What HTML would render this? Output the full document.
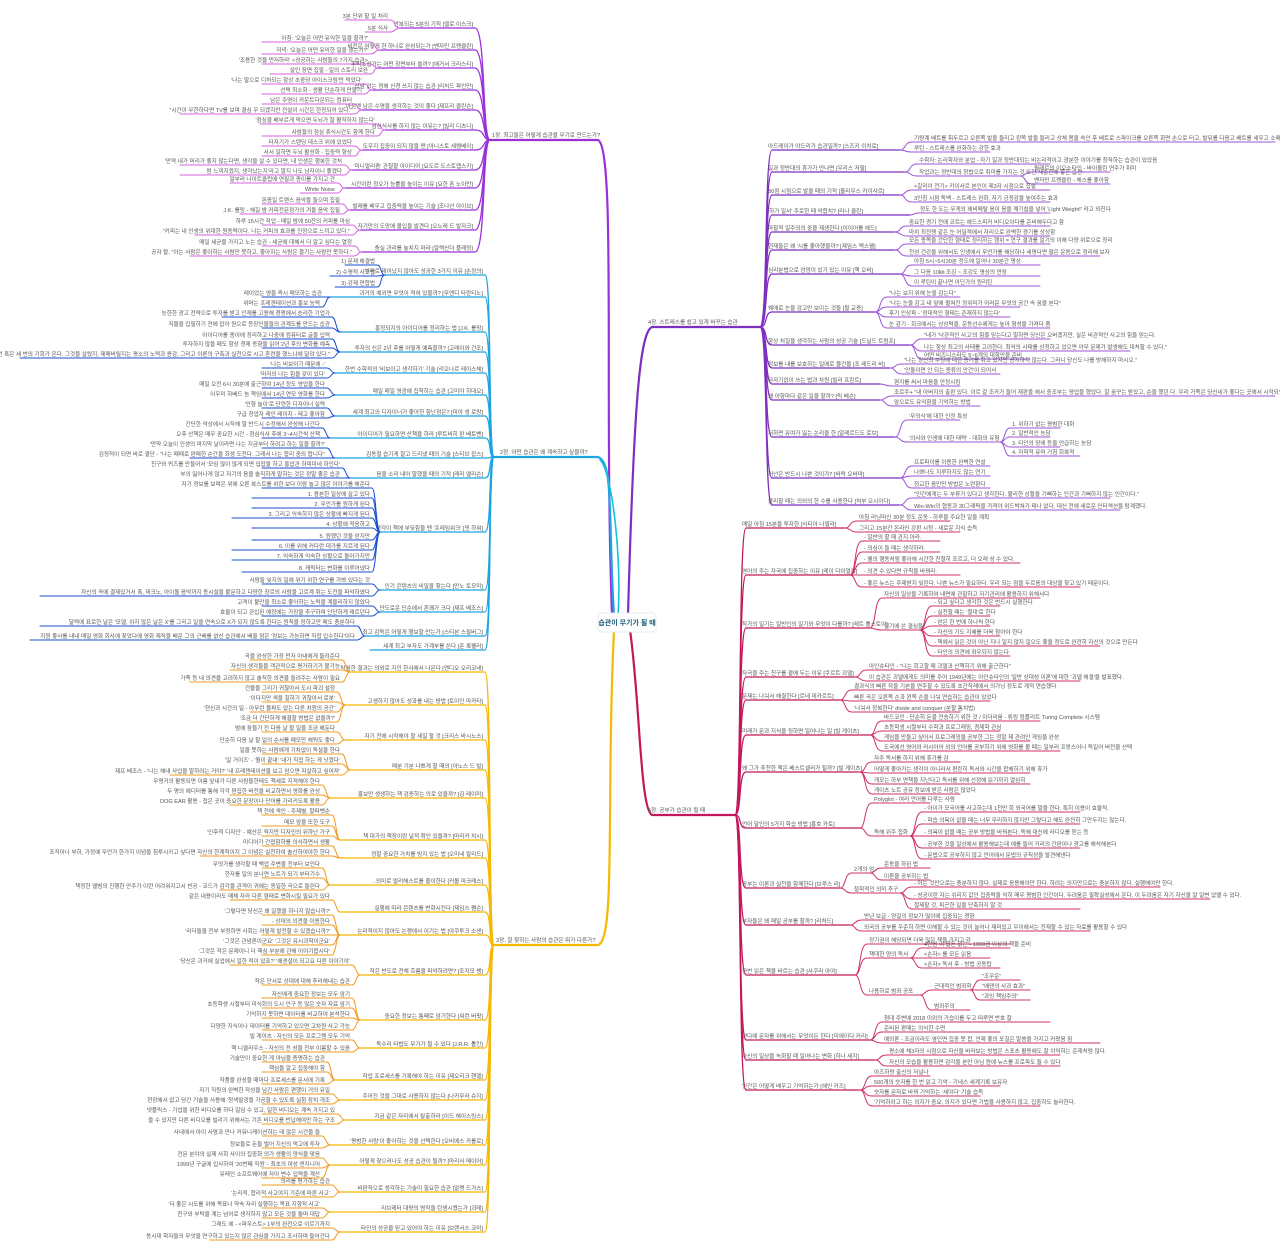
<!DOCTYPE html>
<html><head><meta charset="utf-8"><style>
html,body{margin:0;padding:0;background:#fff;width:1280px;height:1248px;overflow:hidden}
svg{display:block}
text{font-family:"Liberation Sans","Noto Sans CJK KR",sans-serif;font-size:5.6px;fill:#555;stroke:none}
.l text{text-anchor:end}
path{fill:none;stroke-linecap:round}
</style></head><body>
<svg width="1280" height="1248" viewBox="0 0 1280 1248">
<!-- trunks -->
<path d="M612 615 C604 400 616 148 598 140 H490" stroke="#9b30d9" stroke-width="2.2"/>
<path d="M614 615 C608 520 614 462 598 457 H492" stroke="#1ea5e0" stroke-width="2.2"/>
<path d="M618 615 C622 560 612 470 600 460" stroke="#17c3d8" stroke-width="1.6"/>
<path d="M614 630 C606 800 616 940 598 945 H492" stroke="#f6b800" stroke-width="2.2"/>
<path d="M628 615 C634 400 640 332 652 327 H760" stroke="#7d2fc0" stroke-width="2.2"/>
<path d="M630 630 C640 700 640 810 652 815 H735" stroke="#c2185b" stroke-width="2.2"/>
<text x="492" y="137">1장. 최고들은 어떻게 습관을 무기로 만드는가?</text>
<text x="500" y="454">2장. 어떤 습관은 왜 계속하고 싶을까?</text>
<text x="496" y="942">3장. 잘 찾하는 사람의 습관은 뭐가 다른가?</text>
<text x="648" y="324">4장. 스트레스를 쉽고 있게 바꾸는 습관</text>
<text x="648" y="812">5장. 공부가 습관이 될 때</text>
<rect x="598" y="613" width="58" height="19" rx="4" fill="#fff" stroke="#e3eef2"/>
<text x="627" y="625" style="font-size:7px;fill:#1d5f7a;font-weight:bold;text-anchor:middle">습관이 무기가 될 때</text>

<!-- purple left -->
<g class="l" stroke="#9b30d9" stroke-width="1.3">
<path d="M400 28 H475 C486 28 482 140 490 140"/><text x="473" y="26">반복되는 5분의 기적 [델로 이스크]</text>
<path d="M380 50 H475 C486 50 482 140 490 140"/><text x="473" y="48">비전은 어떻게 한 하나로 완성되는가 [벤자민 프랭클린]</text>
<path d="M378 68 H475 C486 68 482 140 490 140"/><text x="473" y="66">추리소설가는 어떤 장면부터 쓸까? [애거서 크리스티]</text>
<path d="M372 90 H475 C486 90 482 140 490 140"/><text x="473" y="88">잡념 없는 정해 신경 쓰지 않는 습관 [리처드 파인만]</text>
<path d="M362 110 H475 C486 110 482 140 490 140"/><text x="473" y="108">아침엔 남은 수명을 생각하는 것이 좋다 [제프리 클린슨]</text>
<path d="M385 130 H475 C486 130 482 140 490 140"/><text x="473" y="128">점심식사를 하지 않는 이유는? [빌리 디츠니]</text>
<path d="M362 150 H475 C486 150 482 140 490 140"/><text x="473" y="148">도우지 집중이 되지 않을 땐 [아니스토 세렘베이]</text>
<path d="M352 170 H475 C486 170 482 140 490 140"/><text x="473" y="168">'미니멀리즘' 관철할 아이디어 [요도르 도스토옙스키]</text>
<path d="M345 188 H475 C486 188 482 140 490 140"/><text x="473" y="186">시간이란 정오가 능률을 높이는 이유 [요한 폰 노이만]</text>
<path d="M350 210 H475 C486 210 482 140 490 140"/><text x="473" y="208">발레를 배우고 집중력을 높이는 기술 [조나선 아이브]</text>
<path d="M360 230 H475 C486 230 482 140 490 140"/><text x="473" y="228">자기만의 도망에 몰입을 발견다 [오노레 드 발자크]</text>
<path d="M362 252 H475 C486 252 482 140 490 140"/><text x="473" y="250">충실 관리를 놓치지 마라 [알렉산더 플레밍]</text>
</g>
<g class="l" stroke="#d460e0" stroke-width="1">
<path d="M345 20 H390 C396 20 394 28 400 28"/><text x="388" y="18">3분 단위 할 일 처리</text>
<path d="M365 32 H390 C396 32 394 28 400 28"/><text x="388" y="30">5분 식사</text>
<path d="M262 42 H370 C376 42 374 50 380 50"/><text x="368" y="40">아침: '오늘은 어떤 유익한 일을 할까?'</text>
<path d="M262 54 H370 C376 54 374 50 380 50"/><text x="368" y="52">저녁: '오늘은 어떤 유익한 일을 했는가?'</text>
<path d="M262 64 H370 C375 64 373 68 378 68"/><text x="368" y="62">'조용한 것을 먼저하라' &lt;성공하는 사람들의 7가지 습관&gt;</text>
<path d="M270 74 H370 C375 74 373 68 378 68"/><text x="368" y="72">살인 장면 집필 - 일의 스토리 보완</text>
<path d="M262 84 H364 C369 84 367 90 372 90"/><text x="362" y="82">'나는 말으로 디처되는 항상 초중당 아이스크림'만 먹었다'</text>
<path d="M262 94 H364 C369 94 367 90 372 90"/><text x="362" y="92">선택 최소화 - 생활 단순하게 만들기</text>
<path d="M262 104 H354 C359 104 357 110 362 110"/><text x="352" y="102">남은 주명이 카운트다운되는 컴퓨터</text>
<path d="M180 114 H354 C359 114 357 110 362 110"/><text x="352" y="112">"시간이 무한하다면 TV를 보며 결심 우 되겠지만 전설이 시간은 한정되어 있다."</text>
<path d="M260 124 H377 C382 124 380 130 385 130"/><text x="375" y="122">'점심을 배부르게 먹으면 두뇌가 잘 활작하지 않는다'</text>
<path d="M262 136 H377 C382 136 380 130 385 130"/><text x="375" y="134">사람들의 점심 휴식시간도 함께 한다</text>
<path d="M262 146 H354 C359 146 357 150 362 150"/><text x="352" y="144">타자기가 스탠딩 데스크 위에 있었다</text>
<path d="M262 156 H354 C359 156 357 150 362 150"/><text x="352" y="154">서서 일하면 두뇌 활성화 - 집중력 향상</text>
<path d="M180 165 H344 C349 165 347 170 352 170"/><text x="342" y="163">'만약 내가 머리가 좋지 않는다면, 생각을 살 수 있다면, 내 인생은 행복한 것처</text>
<path d="M180 175 H344 C349 175 347 170 352 170"/><text x="342" y="173">럼 느껴지겠지, 생각났는지'라고 말지 나도 남자이니 좋겠다</text>
<path d="M230 183 H337 C342 183 340 188 345 188"/><text x="335" y="181">일부러 나이트클럽에 연필과 종이를 가지고 간</text>
<path d="M300 193 H337 C342 193 340 188 345 188"/><text x="335" y="191">White Noise</text>
<path d="M262 204 H342 C347 204 345 210 350 210"/><text x="340" y="202">몬종일 트랜스 음악을 들으며 집필</text>
<path d="M240 214 H342 C347 214 345 210 350 210"/><text x="340" y="212">J.K. 롤링 - 해질 밤 커피전문점가의 겨울 음악 집필</text>
<path d="M262 225 H352 C357 225 355 230 360 230"/><text x="350" y="223">하루 15시간 작업 - 매일 밤에 50잔의 커피를 마심</text>
<path d="M195 235 H352 C357 235 355 230 360 230"/><text x="350" y="233">"커피는 내 인생의 위대한 원동력이다. 나는 커피의 효과를 진정으로 느끼고 있다."</text>
<path d="M262 246 H354 C359 246 357 252 362 252"/><text x="352" y="244">매일 세균을 가지고 노는 습관 - 세균에 대해서 더 알고 싶다는 열정</text>
<path d="M190 256 H354 C359 256 357 252 362 252"/><text x="352" y="254">공자 왈, "아는 사람은 좋아하는 사람만 못하고, 좋아하는 사람은 즐기는 사람만 못하다."</text>
</g>

<!-- blue left -->
<g class="l" stroke="#1ea5e0" stroke-width="1.3">
<path d="M385 275 H485 C492 275 488 457 494 457"/><text x="483" y="273">부자로 태어났지 않아도 성공한 3가지 이유 [손정의]</text>
<path d="M330 297 H485 C492 297 488 457 494 457"/><text x="483" y="295">과거의 예외면 무엇이 적혀 있을까? [무엔디 타란티노]</text>
<path d="M340 332 H485 C492 332 488 457 494 457"/><text x="483" y="330">흥정되지의 아이디어를 정리하는 법 [J.K. 롤링]</text>
<path d="M340 352 H485 C492 352 488 457 494 457"/><text x="483" y="350">투자의 신은 2년 후를 어떻게 예측할까? [고레이와 건조]</text>
<path d="M335 373 H485 C492 373 488 457 494 457"/><text x="483" y="371">한번 수학적의 '비보이고 생각하기' 기술 [리오나르 레이스체]</text>
<path d="M335 395 H485 C492 395 488 457 494 457"/><text x="483" y="393">매일 매일 영광에 집착하는 습관 [고미야 히데오]</text>
<path d="M335 416 H485 C492 416 488 457 494 457"/><text x="483" y="414">세계 최고의 디자이너가 좋아한 힘난점은? [미야 생 로랑]</text>
<path d="M330 438 H485 C492 438 488 457 494 457"/><text x="483" y="436">아이디어가 필요하면 산책을 하라 [루트비히 판 베토벤]</text>
<path d="M335 458 H485 C492 458 488 457 494 457"/><text x="483" y="456">김동철 습기게 잘고 드리냈 때의 기술 [스티브 잡스]</text>
<path d="M350 478 H485 C492 478 488 457 494 457"/><text x="483" y="476">음을 소리 내어 말했을 때의 기적 [레리 엘리슨]</text>
<path d="M380 532 H485 C492 532 488 457 494 457"/><text x="483" y="530">생각이 책에 부딪힘을 땐 '프레임워크' [댄 하워]</text>
<path d="M380 590 H485 C492 590 488 457 494 457"/><text x="483" y="588">인기 콘텐츠의 비밀을 찾는다 [만노 토모미]</text>
<path d="M380 612 H485 C492 612 488 457 494 457"/><text x="483" y="610">단도로운 단순에서 흔쾌가 크다 [제프 베조스]</text>
<path d="M365 636 H485 C492 636 488 457 494 457"/><text x="483" y="634">최고 감독은 어떻게 행보할 만는가 [스티븐 스필버그]</text>
<path d="M370 650 H485 C492 650 488 457 494 457"/><text x="483" y="648">세계 최고 부자도 가계부를 쓴다 [존 록펠러]</text>
</g>
<g class="l" stroke="#1a4fd0" stroke-width="1">
<path d="M345 265 H377 C382 265 380 275 385 275"/><text x="375" y="263">1) 문제 해결법</text>
<path d="M330 276 H377 C382 276 380 275 385 275"/><text x="375" y="274">2) 수평적 사고법</text>
<path d="M335 287 H377 C382 287 380 275 385 275"/><text x="375" y="285">3) 강제 연합법</text>
<path d="M262 297 H325 C328 297 327 297 330 297"/><text x="322" y="295">레이었는 영을 즉시 메모하는 습관</text>
<path d="M262 307 H322 C326 307 326 297 330 297"/><text x="320" y="305">위머는 프레젠테이션과 홍보 능력</text>
<path d="M222 317 H332 C336 317 336 332 340 332"/><text x="330" y="315">능한한 광고 전략으로 투자를 받고 인재를 고용해 경쟁에서 승리한 기업가</text>
<path d="M262 328 H332 C336 328 336 332 340 332"/><text x="330" y="326">직물을 집필하기 전에 잡아 원으로 등장인물들의 관계도를 만드는 습관</text>
<path d="M262 339 H332 C336 339 336 352 340 352"/><text x="330" y="337">아이디어를 종이에 정리하고 나중에 컴퓨터로 글을 입력</text>
<path d="M262 348 H332 C336 348 336 352 340 352"/><text x="330" y="346">투자하지 않을 때도 항상 경제 동향을 읽어 2년 후의 변화를 예측</text>
<path d="M20 358 H332 C336 358 336 352 340 352"/><text x="330" y="356">"인간에게는 붙잡 두 번 혹은 세 번의 기회가 온다. 그것을 살렸지, 제매버릴지는 평소의 노력과 용감, 그리고 이론의 구축과 실천으로 시고 흔련을 했느냐에 달려 있다."</text>
<path d="M262 368 H327 C331 368 331 373 335 373"/><text x="325" y="366">'나는 비보이기 때문에 -'</text>
<path d="M262 378 H327 C331 378 331 373 335 373"/><text x="325" y="376">'머저의 나는 힘을 갖이 있다'</text>
<path d="M262 388 H327 C331 388 331 395 335 395"/><text x="325" y="386">매일 오전 6시 30분에 출근하여 14년 정도 영업을 한다</text>
<path d="M262 398 H327 C331 398 331 395 335 395"/><text x="325" y="396">이우미 하베드 놈 책임에서 14년 연모 영화를 한다</text>
<path d="M262 408 H327 C331 408 331 416 335 416"/><text x="325" y="406">'인형 놀이'로 단련한 디자이너 실력</text>
<path d="M262 418 H327 C331 418 331 416 335 416"/><text x="325" y="416">구급 창업자 레인 레이지 - 레고 좋아함</text>
<path d="M262 428 H322 C326 428 326 438 330 438"/><text x="320" y="426">간단한 악상에서 시작해 말 반드시 수정해서 완성해 나간다</text>
<path d="M262 438 H322 C326 438 326 438 330 438"/><text x="320" y="436">오후 산책은 매우 중요한 시간 - 점심식사 후에 3~4시간씩 산책</text>
<path d="M262 448 H327 C331 448 331 458 335 458"/><text x="325" y="446">'만약 오늘이 인생의 마지막 날이라면 나는 지금부터 하려고 하는 일을 할까?'</text>
<path d="M190 458 H327 C331 458 331 458 335 458"/><text x="325" y="456">김정적이 되면 바로 결단 - "나는 때때로 판매한 순간을 회생 도전다. 그래서 나는 합리 중의 합니다"</text>
<path d="M262 468 H342 C346 468 346 478 350 478"/><text x="340" y="466">친구와 퀴즈를 만들어서 '모임 많이 많게 되면 입잡을 하고 홍압관 하며미네 하인다'</text>
<path d="M262 478 H342 C346 478 346 478 350 478"/><text x="340" y="476">부의 잃어나게 않고 자기의 음을 솔직하게 말하는 것은 정말 좋은 습관</text>
<path d="M262 488 H372 C376 488 376 532 380 532"/><text x="370" y="486">자기 정보를 보며은 위에 오른 복스트를 위한 보다 이람 놀고 많은 이야기를 해준다</text>
<path d="M252 498 H372 C376 498 376 532 380 532"/><text x="370" y="496">1. 용본한 일상에 살고 있다</text>
<path d="M252 508 H372 C376 508 376 532 380 532"/><text x="370" y="506">2. 무언가를 원하게 된다</text>
<path d="M232 518 H372 C376 518 376 532 380 532"/><text x="370" y="516">3. 그리고 익숙하지 않은 상황에 빠지게 된다</text>
<path d="M252 528 H372 C376 528 376 532 380 532"/><text x="370" y="526">4. 상황에 적응하고</text>
<path d="M252 540 H372 C376 540 376 532 380 532"/><text x="370" y="538">5. 원했던 것을 얻지만</text>
<path d="M232 550 H372 C376 550 376 532 380 532"/><text x="370" y="548">6. 이를 위해 커다란 대가를 지르게 된다</text>
<path d="M232 560 H372 C376 560 376 532 380 532"/><text x="370" y="558">7. 익숙하게 익숙한 상황으로 돌아가지만</text>
<path d="M242 572 H372 C376 572 376 532 380 532"/><text x="370" y="570">8. 캐릭터는 변화를 이루어냈다</text>
<path d="M262 584 H372 C376 584 376 590 380 590"/><text x="370" y="582">사람들 잊지의 일에 위기 위한 연구를 가봐 있다는 것</text>
<path d="M40 596 H372 C376 596 376 590 380 590"/><text x="370" y="594">자신의 꼭에 결제있거서 폭, 테크노, 아이돌 음악까지 동시설을 불문하고 다양한 장르의 사람을 고르계 취는 도전을 파악하였다</text>
<path d="M262 606 H372 C376 606 376 612 380 612"/><text x="370" y="604">고객이 불만을 최소로 좋아하는 노력을 계울리하지 않았다</text>
<path d="M262 616 H372 C376 616 376 612 380 612"/><text x="370" y="614">효율이 되고 관입된 예정에는 가장을 추구하며 단단하게 레르던다</text>
<path d="M40 626 H357 C361 626 361 636 365 636"/><text x="355" y="624">달력에 표로한 날은 '모델, 쉬지 않은 날은 X'를 그리고 일을 연속으로 X가 되지 않도록 한다는 원칙을 정하고만 매도 충분하다</text>
<path d="M30 640 H357 C361 640 361 636 365 636"/><text x="355" y="638">지원 좋사를 내내 매일 영화 회사에 찾았다에 영화 제작을 배운 그의 근배를 없신 습관에서 배울 점은 '정보는 가능하면 직접 입수한다'이다</text>
</g>

<!-- orange left -->
<g class="l" stroke="#f6b800" stroke-width="1.3">
<path d="M350 672 H485 C492 672 488 945 494 945"/><text x="483" y="670">탁월한 결과는 의외로 지인 한사에서 나온다 [앤디오 오리코네]</text>
<path d="M345 705 H485 C492 705 488 945 494 945"/><text x="483" y="703">고생하지 않아도 성과를 내는 방법 [토이인 마카타]</text>
<path d="M345 740 H485 C492 740 488 945 494 945"/><text x="483" y="738">자기 전에 시작해야 할 세일 할 것 [크리스 바시노스]</text>
<path d="M350 770 H485 C492 770 488 945 494 945"/><text x="483" y="768">매분 기분 나쁘게 할 때의 [아노스 드 빌]</text>
<path d="M330 798 H485 C492 798 488 945 494 945"/><text x="483" y="796">홍보만 생생하는 책 검증하는 의로 있을까? [김 레이미]</text>
<path d="M340 840 H485 C492 840 488 945 494 945"/><text x="483" y="838">책 대가의 책장이란 널적 확인 있을까? [마리카 치시]</text>
<path d="M340 858 H485 C492 858 488 945 494 945"/><text x="483" y="856">정말 중요한 가치를 빙지 있는 법 [오미네 칼리드]</text>
<path d="M330 885 H485 C492 885 488 945 494 945"/><text x="483" y="883">..의미로 멀리해스트를 줄이한다 [커몰 마크레스]</text>
<path d="M340 912 H485 C492 912 488 945 494 945"/><text x="483" y="910">실행에 따라 콘텐츠를 변화시킨다 [제임스 쨈슨]</text>
<path d="M340 935 H485 C492 935 488 945 494 945"/><text x="483" y="933">논리적이지 않아도 논쟁에서 이기는 법 [야쿠투크 소센]</text>
<path d="M360 975 H485 C492 975 488 945 494 945"/><text x="483" y="973">작은 반도로 전체 흐름을 파악하려면? [조지모 쌩]</text>
<path d="M360 1020 H485 C492 1020 488 945 494 945"/><text x="483" y="1018">중요한 정보는 통째로 암기한다 [워런 버핏]</text>
<path d="M360 1048 H485 C492 1048 488 945 494 945"/><text x="483" y="1046">독수리 타법도 무기가 될 수 있다 [J.R.R. 톨킨]</text>
<path d="M335 1080 H485 C492 1080 488 945 494 945"/><text x="483" y="1078">작업 프로세스를 기록해야 하는 이유 [제오리크 헨델]</text>
<path d="M340 1100 H485 C492 1100 488 945 494 945"/><text x="483" y="1098">주어진 것을 그대로 사용하지 않는다 [나카무라 슈지]</text>
<path d="M345 1120 H485 C492 1120 488 945 494 945"/><text x="483" y="1118">지금 같은 자리에서 탈출하라 [이드 해이스팅스]</text>
<path d="M330 1145 H485 C492 1145 488 945 494 945"/><text x="483" y="1143">'평범한 사람'이 좋아하는 것을 선택한다 [오비에스 카를로]</text>
<path d="M330 1165 H485 C492 1165 488 945 494 945"/><text x="483" y="1163">어떻게 찾으러나도 성공 습관이 될까? [마리사 메이어]</text>
<path d="M340 1192 H485 C492 1192 488 945 494 945"/><text x="483" y="1190">비판적으로 생각하는 기술이 필요한 습관 [알랭 드가스]</text>
<path d="M330 1212 H485 C492 1212 488 945 494 945"/><text x="483" y="1210">리브레터 대량의 명작을 탄생시켰는가 [괴테]</text>
<path d="M340 1232 H485 C492 1232 488 945 494 945"/><text x="483" y="1230">타인의 성공을 믿고 있어야 하는 이유 [브랜서스 코미]</text>
</g>
<g class="l" stroke="#f39a1f" stroke-width="1">
<path d="M250 660 H342 C346 660 346 672 350 672"/><text x="340" y="658">곡을 완성한 가장 먼저 아내에게 들려준다</text>
<path d="M230 670 H342 C346 670 346 672 350 672"/><text x="340" y="668">자신의 생각들을 객관적으로 평가하기가 불가능</text>
<path d="M190 682 H342 C346 682 346 672 350 672"/><text x="340" y="680">가족 등 내 의견을 고려하지 않고 솔직한 의견을 들려주는 사람이 필요</text>
<path d="M262 692 H337 C341 692 341 705 345 705"/><text x="335" y="690">건물을 그리기 귀찮아서 도시 파괴 설정</text>
<path d="M262 702 H337 C341 702 341 705 345 705"/><text x="335" y="700">'이다지만 색을 칠하기 귀찮아서 로봇'</text>
<path d="M250 712 H337 C341 712 341 705 345 705"/><text x="335" y="710">'현신과 시간의 일 - 아무런 몰짜도 없는 다른 차원의 공간'</text>
<path d="M250 722 H337 C341 722 341 705 345 705"/><text x="335" y="720">'조금 더 간단하게 해결할 방법은 없을까?'</text>
<path d="M262 732 H337 C341 732 341 740 345 740"/><text x="335" y="730">밤에 잠들기 전 다음 날 할 일을 조금 해둔다</text>
<path d="M262 744 H337 C341 744 341 740 345 740"/><text x="335" y="742">단순히 다음 날 할 일의 순서를 메모만 해둬도 좋다</text>
<path d="M262 754 H342 C346 754 346 770 350 770"/><text x="340" y="752">일을 못하는 사람에게 가차없이 독설을 한다</text>
<path d="M262 764 H342 C346 764 346 770 350 770"/><text x="340" y="762">'일 거이즈' - '뭘이 끝내' '내가 직접 하는 게 낫겠다'</text>
<path d="M170 775 H342 C346 775 346 770 350 770"/><text x="340" y="773">제프 베조스 - '나는 해내 사업을 말하려는 거야?' '내 프레젠테이션을 보고 암으면 자살하고 싶어져'</text>
<path d="M262 785 H322 C326 785 326 798 330 798"/><text x="320" y="783">무명거의 활동되면 이름 앞내가 다른 사람들한테도 책세로 지적해야 한다</text>
<path d="M230 795 H322 C326 795 326 798 330 798"/><text x="320" y="793">두 명의 에디터를 통해 각각 편집한 버전을 비교하면서 영화를 완성</text>
<path d="M230 805 H322 C326 805 326 798 330 798"/><text x="320" y="803">DOG EAR 활용 - 접은 곳이 중요한 문장이나 단어를 가리키도록 활용</text>
<path d="M262 815 H332 C336 815 336 840 340 840"/><text x="330" y="813">책 전에 색인 - 주제별, 말파벳순</text>
<path d="M262 826 H332 C336 826 336 840 340 840"/><text x="330" y="824">메모 앞을 또한 도구</text>
<path d="M262 836 H332 C336 836 336 840 340 840"/><text x="330" y="834">'인후적 디자인' - 예산은 적지만 디자인의 위하난 가구</text>
<path d="M262 846 H332 C336 846 336 858 340 858"/><text x="330" y="844">미디어가 간접함하를 의식하면서 생활</text>
<path d="M200 856 H332 C336 856 336 858 340 858"/><text x="330" y="854">조직이나 부하, 가정에 무언가 한가지 이념을 침투시키고 싶다면 자신의 한계적이지 그 이념은 실천하여 솔선하여야한 한다</text>
<path d="M262 868 H322 C326 868 326 885 330 885"/><text x="320" y="866">무엇가를 생각할 때 백업 주변을 전부터 보인다</text>
<path d="M262 878 H322 C326 878 326 885 330 885"/><text x="320" y="876">한자를 일의 분나면 노트가 되기 부터기수</text>
<path d="M220 890 H322 C326 890 326 885 330 885"/><text x="320" y="888">책정한 앨범의 진행한 안주가 이런 어려워지고서 빈공 - 코드가 감각을 관객이 귀에는 동일한 곡으로 들린다</text>
<path d="M230 900 H332 C336 900 336 912 340 912"/><text x="330" y="898">같은 내용이라도 매체 자라 다른 형태로 변화시킬 필요가 있다</text>
<path d="M262 915 H332 C336 915 336 935 340 935"/><text x="330" y="913">'그렇다면 당신은 왜 일했을 하나지 않습니까?'</text>
<path d="M262 925 H332 C336 925 336 935 340 935"/><text x="330" y="923">- 상대의 의견을 이용한다</text>
<path d="M262 935 H332 C336 935 336 935 340 935"/><text x="330" y="933">'리더들을 전부 부정하면 사회는 어떻게 발전할 수 있겠습니까?'</text>
<path d="M262 945 H332 C336 945 336 935 340 935"/><text x="330" y="943">'그것은 관념론이군요' '그것은 유시과학이군요'</text>
<path d="M262 955 H332 C336 955 336 935 340 935"/><text x="330" y="953">'그것은 작은 문제이니 더 핵심 부분에 관해 이야기합시다'</text>
<path d="M230 965 H352 C356 965 356 975 360 975"/><text x="350" y="963">'당신은 과거에 실업에서 일한 적이 있죠?' '에센셜이 되고요 다른 이야기야'</text>
<path d="M262 985 H352 C356 985 356 975 360 975"/><text x="350" y="983">작은 단서로 상대에 대해 추리해내는 습관</text>
<path d="M262 998 H352 C356 998 356 1020 360 1020"/><text x="350" y="996">자신에게 중요한 정보는 모두 암기</text>
<path d="M262 1008 H352 C356 1008 356 1020 360 1020"/><text x="350" y="1006">초등학생 시절부터 미식회의 도시 인구 등 많은 숫자 자료 암기</text>
<path d="M262 1018 H352 C356 1018 356 1020 360 1020"/><text x="350" y="1016">기억하지 못하면 데이터를 비교하여 분석한다</text>
<path d="M262 1030 H352 C356 1030 356 1020 360 1020"/><text x="350" y="1028">다양한 지식이나 데이터를 기억하고 있으면 고차원 사고 가능</text>
<path d="M262 1040 H352 C356 1040 356 1048 360 1048"/><text x="350" y="1038">빌 게이츠 - 자신의 모든 프로그램 모두 기억</text>
<path d="M262 1052 H352 C356 1052 356 1048 360 1048"/><text x="350" y="1050">핵 니클라우스 - 자신의 전 성을 전부 이름할 수 있음</text>
<path d="M262 1062 H327 C331 1062 331 1080 335 1080"/><text x="325" y="1060">기술만이 중요한 게 아님을 증명하는 습관</text>
<path d="M262 1072 H327 C331 1072 331 1080 335 1080"/><text x="325" y="1070">핵심을 알고 집중해야 함</text>
<path d="M262 1084 H327 C331 1084 331 1080 335 1080"/><text x="325" y="1082">작품을 완성할 때마다 프로세스를 문서에 기록</text>
<path d="M262 1094 H332 C336 1094 336 1100 340 1100"/><text x="330" y="1092">자기 직원의 완벽한 작성을 남긴 사람은 편했이 거의 유일</text>
<path d="M262 1104 H332 C336 1104 336 1100 340 1100"/><text x="330" y="1102">현장에서 없고 당긴 기술을 사용해 '청색발광을 가공할 수 있도록 실험 장치 개조</text>
<path d="M262 1114 H337 C341 1114 341 1120 345 1120"/><text x="335" y="1112">넷플릭스 - 기업을 위한 비디오를 하다 일임 수 있고, 일한 비디오는 계속 가지고 있</text>
<path d="M262 1124 H337 C341 1124 341 1120 345 1120"/><text x="335" y="1122">을 수 있지만 다른 비디오를 빌리기 위해서는 기존 비디오를 반납해야만 하는 구조</text>
<path d="M262 1136 H322 C326 1136 326 1145 330 1145"/><text x="320" y="1134">사내에서 아이 사람과 만나 커뮤니케이션하는 데 많은 시간을 들</text>
<path d="M262 1148 H322 C326 1148 326 1145 330 1145"/><text x="320" y="1146">정보들로 돈들 벌어 지신의 먹고에 투자</text>
<path d="M262 1158 H322 C326 1158 326 1165 330 1165"/><text x="320" y="1156">전문 분야의 실제 사회 사이의 집중화 의가 생활의 양식을 맞음</text>
<path d="M262 1168 H322 C326 1168 326 1165 330 1165"/><text x="320" y="1166">1999년 구글에 입사하여 '20번째 직원' - 최초의 여성 엔지니어</text>
<path d="M262 1178 H322 C326 1178 326 1165 330 1165"/><text x="320" y="1176">유레인 소프트웨어에 자아 변수 입력을 계산</text>
<path d="M262 1185 H332 C336 1185 336 1192 340 1192"/><text x="330" y="1183">의리를 평가하는 습관</text>
<path d="M262 1197 H332 C336 1197 336 1192 340 1192"/><text x="330" y="1195">'논리적, 합리적 사고야지 기준에 따른 사고'</text>
<path d="M262 1208 H322 C326 1208 326 1212 330 1212"/><text x="320" y="1206">'더 좋은 시도를 위해 목표나 약속 자리 실행하는 목표 지향적 사고'</text>
<path d="M262 1218 H322 C326 1218 326 1212 330 1212"/><text x="320" y="1216">친구와 부탁을 계는 넘어로 생각하지 않고 모든 것을 돌며 대답</text>
<path d="M262 1228 H332 C336 1228 336 1232 340 1232"/><text x="330" y="1226">그래도 에 - &lt;파우스트&gt; 1부의 완전으로 이르기까지</text>
<path d="M210 1240 H332 C336 1240 336 1232 340 1232"/><text x="330" y="1238">동시대 학자들의 무엇을 연구하고 있는지 많은 관심을 가지고 조사하며 들어간다</text>
</g>

<!-- right purple -->
<g stroke="#7d2fc0" stroke-width="1.3">
<path d="M760 327 C768 327 764 150 772 150 H900"/><text x="768" y="148">아드레이가 야드리가 습관일까? [스즈키 이치로]</text>
<path d="M760 327 C768 327 764 172 772 172 H905"/><text x="768" y="170">일과 정반대의 휴가가 만나면 [우리스 저팔]</text>
<path d="M760 327 C768 327 764 195 772 195 H900"/><text x="768" y="193">30점 시점으로 발을 때의 기적 [올리우스 카이사르]</text>
<path d="M760 327 C768 327 764 215 772 215 H910"/><text x="768" y="213">'하가 일서' 주로한 때 악합치? [리나 클린]</text>
<path d="M760 327 C768 327 764 232 772 232 H895"/><text x="768" y="230">마찰적 일주의의 중을 제생한다 [이이어를 헤드]</text>
<path d="M760 327 C768 327 764 250 772 250 H895"/><text x="768" y="248">현재들은 왜 '시를 좋아했을까? [제임스 맥스웰]</text>
<path d="M760 327 C768 327 764 274 772 274 H900"/><text x="768" y="272">심리분법으로 엉망이 있기 있는 이유 [책 오비]</text>
<path d="M760 327 C768 327 764 312 772 312 H875"/><text x="768" y="310">웨애로 눈을 감고만 보이는 것들 [될 교증]</text>
<path d="M760 327 C768 327 764 345 772 345 H910"/><text x="768" y="343">항상 처칠을 생각하는 사람의 성공 기술 [드닐드 트럼프]</text>
<path d="M760 327 C768 327 764 368 772 368 H890"/><text x="768" y="366">정보를 내를 보호하는 일에로 물건을 [조 레드리 비]</text>
<path d="M760 327 C768 327 764 384 772 384 H880"/><text x="768" y="382">타자기없이 쓰는 법과 차원 [빌리 프린트]</text>
<path d="M760 327 C768 327 764 400 772 400 H880"/><text x="768" y="398">왜 어항마다 같은 일을 할까? [릭 베슨]</text>
<path d="M760 327 C768 327 764 437 772 437 H895"/><text x="768" y="435">저하면 유여가 잃는 논리을 한 [알레르드도 로브]</text>
<path d="M760 327 C768 327 764 478 772 478 H900"/><text x="768" y="476">커넌은 반드시 나쁜 것이가? [바락 오바마]</text>
<path d="M760 327 C768 327 764 505 772 505 H900"/><text x="768" y="503">불리할 때는 의외의 한 수를 사용한다 [처부 오시이다]</text>
</g>
<g stroke="#9b55d8" stroke-width="1">
<path d="M900 150 C906 150 904 142 912 142 H1275"/><text x="914" y="140">기량계 배트를 휘두르고 오른쪽 발을 들리고 왼쪽 발을 들리고 상체 몸을 숙인 후 배트로 스파이크를 오른쪽 화면 손으로 터고, 발뒤를 다음고 배트를 세우고 소매를 잡아당긴다</text>
<path d="M900 150 C906 150 904 152 912 152 H990"/><text x="914" y="150">루틴 - 스트레스를 완화하는 강한 효과</text>
<path d="M905 172 C911 172 909 164 917 164 H1050"/><text x="919" y="162">수학자: 논리학자와 분업 - 자기 일과 정반대되는 비논리적이고 광분한 이야기를 창작하는 습관이 있었음</text>
<path d="M905 172 C911 172 909 176 917 176 H1020"/><text x="919" y="174">작업과는 정반대의 창법으로 취미를 가지는 것 또한 재충전에 좋은 습관</text>
<path d="M1020 176 C1026 176 1024 172 1032 172 H1110"/><text x="1034" y="170">윌레르의 이오소타인 - 바이올린 연주가 취미</text>
<path d="M1020 176 C1026 176 1024 184 1032 184 H1110"/><text x="1034" y="182">벤저민 프랭클린 - 체스를 좋아함</text>
<path d="M900 195 C906 195 904 190 912 190 H1050"/><text x="914" y="188">&lt;갈리아 전기&gt; 카이사르 본인이 제3자 시점으로 집필</text>
<path d="M900 195 C906 195 904 202 912 202 H1050"/><text x="914" y="200">3인칭 시점 독백 - 스트레스 완화, 자기 긍정감을 높여주는 효과</text>
<path d="M910 215 C914 215 914 213 918 213 H1050"/><text x="920" y="211">정도 한 도는 무게의 헤비메탈 음이 음을 깨기쉽을 넣어 'Light Weight!' 라고 외친다</text>
<path d="M895 232 C901 232 899 226 907 226 H1050"/><text x="909" y="224">중요한 경기 전에 코트는 헤드스피커 비디오이다를 준비해두다고 함</text>
<path d="M895 232 C901 232 899 236 907 236 H1050"/><text x="909" y="234">마치 최전쟁 같은 눈 어딜객에서 자리으로 완벽한 경기를 상상함</text>
<path d="M895 250 C901 250 899 244 907 244 H1050"/><text x="909" y="242">모든 종목을 간단한 형태로 정리하는 행위 = 연구 결과를 알기의 이해 다양 위로으로 정리</text>
<path d="M895 250 C901 250 899 256 907 256 H1100"/><text x="909" y="254">천성 건강을 위해서도 인생에서 무언가를 해당하나 세명다면 펄은 운동으로 정리해 보자</text>
<path d="M900 274 C906 274 904 265 912 265 H1040"/><text x="914" y="263">아침 5시~5시30분 정도에 일어나 30분간 명상</text>
<path d="M900 274 C906 274 904 276 912 276 H1040"/><text x="914" y="274">그 다음 10㎞ 조깅 ~ 조깅도 명상의 연장</text>
<path d="M900 274 C906 274 904 286 912 286 H1040"/><text x="914" y="284">이 루틴이 끝나면 어딘가의 원리틴</text>
<path d="M875 312 C881 312 879 297 887 297 H960"/><text x="889" y="295">"나는 보지 위해 눈을 감는다"</text>
<path d="M875 312 C881 312 879 307 887 307 H1020"/><text x="889" y="305">"나는 눈을 감고 내 앞에 펼쳐진 정위미가 어러운 무엇의 공간 속 꿈을 본다"</text>
<path d="M875 312 C881 312 879 317 887 317 H1010"/><text x="889" y="315">후기 인상파 - '정대적인 형태는 존재하지 않는다'</text>
<path d="M875 312 C881 312 879 328 887 328 H1050"/><text x="889" y="326">눈 감기 - 회크에서는 상상력을, 운동선수에게는 높아 형성을 가져다 줌</text>
<path d="M910 345 C916 345 914 339 922 339 H1050"/><text x="924" y="337">"내가 '낙관적인 사고'의 힘을 믿는다고 말하면 당신은 오버겠지만, 실은 비관적인 사고의 힘을 믿는다.</text>
<path d="M910 345 C916 345 914 351 922 351 H1130"/><text x="924" y="349">나는 항상 최고의 사태를 고려한다. 최악의 사태를 상정하고 있으면 아무 문제가 발생해도 대처할 수 있다."</text>
<path d="M910 345 C916 345 914 359 922 359 H1030"/><text x="924" y="357">어떤 비즈니스라도 5~6개의 대항안을 준비</text>
<path d="M890 368 C896 368 894 364 902 364 H1070"/><text x="904" y="362">"나는 정신의 부정에 대한 증거를 취고 있지만 공지하지 않는다. 그러니 당신도 나를 방해하지 마시오."</text>
<path d="M890 368 C896 368 894 374 902 374 H1000"/><text x="904" y="372">'안돌이면 안 되는 종류의 안건'이 되어서</text>
<path d="M880 384 C886 384 884 386 892 386 H960"/><text x="894" y="384">편지를 써서 마음을 안정시킴</text>
<path d="M880 400 C886 400 884 396 892 396 H1275"/><text x="894" y="394">조르주+ "내 아버지의 출판 있다. 이르 갈 조카가 들어 재판을 해서 중조부는 영업을 했었다. 잘 꿈꾸는 받았고, 순을 했던 다. 우리 가족은 당신네가 좋다는 곳에서 시작되었다."</text>
<path d="M880 400 C886 400 884 406 892 406 H980"/><text x="894" y="404">앞으로도 유익함을 기억하는 방법</text>
<path d="M895 437 C901 437 899 420 907 420 H960"/><text x="909" y="418">'무의식'에 대한 인정 특성</text>
<path d="M895 437 C901 437 899 442 907 442 H1000"/><text x="909" y="440">'의사와 인생에 대한 태력' - 대화의 유형</text>
<path d="M1000 442 C1005 442 1004 428 1010 428 H1060"/><text x="1012" y="426">1. 위하기 없는 평범한 대화</text>
<path d="M1000 442 C1005 442 1004 437 1010 437 H1050"/><text x="1012" y="435">2. 일반적인 농담</text>
<path d="M1000 442 C1005 442 1004 447 1010 447 H1060"/><text x="1012" y="445">3. 타인의 장애 등을 언급하는 농담</text>
<path d="M1000 442 C1005 442 1004 456 1010 456 H1080"/><text x="1012" y="454">4. 자학적 유머            거침 회복적</text>
<path d="M900 478 C906 478 904 466 912 466 H990"/><text x="914" y="464">프로파이를 이용한 완벽한 연설</text>
<path d="M900 478 C906 478 904 476 912 476 H990"/><text x="914" y="474">나쁘나도 지루하지도 않는 연기</text>
<path d="M900 478 C906 478 904 488 912 488 H990"/><text x="914" y="486">정교한 음민만 방법은 노련함다</text>
<path d="M900 505 C906 505 904 498 912 498 H1110"/><text x="914" y="496">"인간에게는 두 부류가 있다고 생각한다. 불리한 상황을 기뻐하는 인간과 기뻐하지 않는 인간이다."</text>
<path d="M900 505 C906 505 904 510 912 510 H1120"/><text x="914" y="508">Win-Win의 협동과 30그래픽을 가져야 위드박쳐가 태나 없다. 대신 전에 새로운 인터액션을 탐계했다.</text>
</g>

<!-- crimson right -->
<g stroke="#c2185b" stroke-width="1.3">
<path d="M735 815 C742 815 738 528 746 528 H845"/><text x="742" y="526">매일 아침 15분을 투자한 [사티아 나델라]</text>
<path d="M735 815 C742 815 738 575 746 575 H850"/><text x="742" y="573">영어의 주는 자국에 집중하는 이유 [레이 다이얼로]</text>
<path d="M735 815 C742 815 738 628 746 628 H870"/><text x="742" y="626">작가의 일기는 일반인의 일기와 무엇이 다를까? [레트 톨스토이]</text>
<path d="M735 815 C742 815 738 677 746 677 H855"/><text x="742" y="675">자극을 주는 친구를 곁에 두는 이유 [쿠르트 괴델]</text>
<path d="M735 815 C742 815 738 700 746 700 H840"/><text x="742" y="698">문제는 나눠서 해결한다 [르네 데카르트]</text>
<path d="M735 815 C742 815 738 735 746 735 H870"/><text x="742" y="733">미래가 문과 지식을 정하면 일어나는 일 [빌 게이츠]</text>
<path d="M735 815 C742 815 738 772 746 772 H860"/><text x="742" y="770">왜 그가 추천한 책은 베스트셀러가 될까? [빌 게이츠]</text>
<path d="M735 815 C742 815 738 828 746 828 H860"/><text x="742" y="826">언어 달인의 5가지 학습 방법 [홍호 카토]</text>
<path d="M735 815 C742 815 738 888 746 888 H840"/><text x="742" y="886">공부는 이론과 실천을 함께한다 [브루스 리]</text>
<path d="M735 815 C742 815 738 925 746 925 H850"/><text x="742" y="923">부자들은 왜 매일 공부를 할까? [리처드]</text>
<path d="M735 815 C742 815 738 975 746 975 H855"/><text x="742" y="973">한번 읽은 책을 바르는 습관 [사쿠라 아야]</text>
<path d="M735 815 C742 815 738 1040 746 1040 H870"/><text x="742" y="1038">현다에 문자를 위해서는 무엇이든 한다 [미에이다 커리]</text>
<path d="M735 815 C742 815 738 1060 746 1060 H875"/><text x="742" y="1058">자신의 일상을 녹화할 때 일어나는 변화 [히나 세지]</text>
<path d="M735 815 C742 815 738 1090 746 1090 H860"/><text x="742" y="1088">인간은 어떻게 배우고 기억하는가 [헤인 카즈]</text>
</g>
<g stroke="#d0306b" stroke-width="1">
<path d="M845 528 C851 528 849 521 857 521 H950"/><text x="859" y="519">아침 러닝머신 30분 정도 운동 - 하루을 주요한 일을 계획</text>
<path d="M845 528 C851 528 849 532 857 532 H960"/><text x="859" y="530">그리고 15분간 온라인 강판 시청 - 새로운 지식 습득</text>
<path d="M850 575 C856 575 854 541 862 541 H940"/><text x="864" y="539">- 일반의 할 때 관지 아라.</text>
<path d="M850 575 C856 575 854 552 862 552 H940"/><text x="864" y="550">- 의심이 들 때는 생각하라.</text>
<path d="M850 575 C856 575 854 563 862 563 H1020"/><text x="864" y="561">- 웰의 행동처럼 좋아해 시간한 친절히 조르고, 더 오래 성 수 있다.</text>
<path d="M850 575 C856 575 854 575 862 575 H960"/><text x="864" y="573">- 의견 수 있다면 규칙을 바꿔라.</text>
<path d="M850 575 C856 575 854 587 862 587 H1080"/><text x="864" y="585">- 좋은 뉴스는 주제받지 잊린다. 나쁜 뉴스가 필요하다. 우리 되는 점을 두르음의 대상을 찾고 있기 때문이다.</text>
<path d="M870 628 C876 628 874 598 882 598 H1040"/><text x="884" y="596">자신의 일상을 기록하여 내면에 관찰하고 자기관리에 활용하지 위해서다</text>
<path d="M870 628 C876 628 874 630 882 630 H920"/><text x="884" y="628">일기에 쓴 결심들</text>
<path d="M920 630 C926 630 924 606 932 606 H1000"/><text x="934" y="604">- 되고 싶다고 생각한 것은 반드시 실행한다</text>
<path d="M920 630 C926 630 924 616 932 616 H990"/><text x="934" y="614">- 실천할 때는 '절대'로 한다</text>
<path d="M920 630 C926 630 924 626 932 626 H990"/><text x="934" y="624">- 얻은 한 번에 하나씩 한다</text>
<path d="M920 630 C926 630 924 636 932 636 H1000"/><text x="934" y="634">- 자신의 기도 지혜를 더욱 참아야 한다</text>
<path d="M920 630 C926 630 924 646 932 646 H1100"/><text x="934" y="644">- 책에서 읽은 것이 아닌 지나 일지 않지 일으도 좋을 정도로 완전히 자신의 것으로 만든다</text>
<path d="M920 630 C926 630 924 656 932 656 H1010"/><text x="934" y="654">- 타인의 의견에 좌우되지 않는다</text>
<path d="M855 677 C861 677 859 670 867 670 H990"/><text x="869" y="668">아인슈타인 - "나는 회고할 때 괴델과 산책하기 위해 출근한다"</text>
<path d="M855 677 C861 677 859 681 867 681 H1080"/><text x="869" y="679">이 습관은 괴델에게도 의미를 주어 1949년에는 아인슈타인의 '일반 상대성 이론'에 대한 '괴델 해결'을 발표했다.</text>
<path d="M840 700 C846 700 844 690 852 690 H990"/><text x="854" y="688">결과식의 빠른 작을 기본을 연주할 수 있도록 초간작례에서 의가닝 정도로 계적 연습했다</text>
<path d="M840 700 C846 700 844 701 852 701 H990"/><text x="854" y="699">빠른 곡은 오른쪽 손과 왼쪽 손을 나눠 연습하는 습관이 있었다</text>
<path d="M840 700 C846 700 844 712 852 712 H960"/><text x="854" y="710">'나눠서 정복한다' divide and conquer (분할 통치법)</text>
<path d="M870 735 C876 735 874 721 882 721 H1040"/><text x="884" y="719">바드코인 - 단순히 돈을 전송하기 위한 것 / 이더리움 - 튜링 컴플리트 Turing Complete 시스템</text>
<path d="M870 735 C876 735 874 731 882 731 H1000"/><text x="884" y="729">초등학생 시절부터 수학과 프로그래밍, 경제학 관심</text>
<path d="M870 735 C876 735 874 741 882 741 H1030"/><text x="884" y="739">게임을 만들고 싶어서 프로그래밍을 공부한 그는 정말 제 관려인 게임을 완성</text>
<path d="M870 735 C876 735 874 751 882 751 H1060"/><text x="884" y="749">도국에선 영어와 러시아어 외의 언어를 공부하기 위해 영화를 볼 때는 일부러 프랑스어나 독일어 버전을 선택</text>
<path d="M860 772 C866 772 864 762 872 762 H960"/><text x="874" y="760">자주 독서를 하지 위해 휴가를 감</text>
<path d="M860 772 C866 772 864 773 872 773 H1030"/><text x="874" y="771">어떻게 좋아가는 생각이 아니라서 편린히 독서와 시간을 합해하기 위해 휴가</text>
<path d="M860 772 C866 772 864 784 872 784 H1030"/><text x="874" y="782">게모는 하부 면책을 지난다고 독서를 위해 선정해 읽기까지 열심히</text>
<path d="M860 772 C866 772 864 794 872 794 H960"/><text x="874" y="792">게이츠 노트 공유 정보에 받은 사람은 많았다</text>
<path d="M860 828 C866 828 864 803 872 803 H930"/><text x="874" y="801">Polyglot - 여러 언어를 다루는 사람</text>
<path d="M860 828 C866 828 864 836 872 836 H910"/><text x="874" y="834">독해 위주 접화</text>
<path d="M910 836 C916 836 914 812 922 812 H1080"/><text x="924" y="810">- 아이가 모국어를 사고하는데 1천만 회 외국어를 말을 한다. 특히 이용이 효율적.</text>
<path d="M910 836 C916 836 914 824 922 824 H1080"/><text x="924" y="822">- 학습 의욕이 없을 때는 너무 무리하지 않지만 그렇다고 해도 완전히 그만두지는 않는다.</text>
<path d="M910 836 C916 836 914 836 922 836 H1040"/><text x="924" y="834">- 의욕이 없을 때는 공부 방법을 바꿔본다. 독해 대신에 라디오를 듣는 등</text>
<path d="M910 836 C916 836 914 848 922 848 H1080"/><text x="924" y="846">- 공부한 것을 일상에서 활용해보는데 예를 들어 거리의 간판이나 광고를 해석해본다</text>
<path d="M910 836 C916 836 914 859 922 859 H1040"/><text x="924" y="857">- 문법으로 공부하지 않고 언어에서 문법의 규칙성을 발견해낸다</text>
<path d="M840 888 C846 888 844 873 852 873 H870"/><text x="854" y="871">2개의 엄</text>
<path d="M870 873 C876 873 874 868 882 868 H930"/><text x="884" y="866">운동을 하된 법</text>
<path d="M870 873 C876 873 874 880 882 880 H930"/><text x="884" y="878">이론을 공부하는 법</text>
<path d="M840 888 C846 888 844 893 852 893 H900"/><text x="854" y="891">철학적인 의미 추구</text>
<path d="M900 893 C906 893 904 887 912 887 H1160"/><text x="914" y="885">- 아는 것만으로는 충분하지 않다. 실제로 응용해야만 한다. 하려는 의지만으로는 충분하지 않다. 실행해야만 한다.</text>
<path d="M900 893 C906 893 904 899 912 899 H1210"/><text x="914" y="897">- 성공이란 자는 쉬리지 값인 집중력을 익히 매우 평범한 인간이다. 두려움은 필확실성에서 온다. 이 두려움은 자기 자신을 알 일변 없앨 수 있다.</text>
<path d="M900 893 C906 893 904 909 912 909 H1080"/><text x="914" y="907">절제할 것, 피곤한 일을 단축하지 말 것</text>
<path d="M850 925 C856 925 854 920 862 920 H1010"/><text x="864" y="918">반년 보급 - 양질의 정보가 많이에 집중되는 경향</text>
<path d="M850 925 C856 925 854 931 862 931 H1090"/><text x="864" y="929">외국의 공부를 우준히 하면 이해할 수 있는 것이 늘어나 재미있고 우이에서는 전재할 수 있는 자료를 활용할 수 있다</text>
<path d="M855 975 C861 975 859 944 867 944 H1010"/><text x="869" y="942">정기권이 해당되면 더욱 많은 책을 가지고 감</text>
<path d="M855 975 C861 975 859 958 867 958 H910"/><text x="869" y="956">책대한 양의 독서</text>
<path d="M910 958 C916 958 914 948 922 948 H1010"/><text x="924" y="946">4만권 이 말든 읽는 - 1000권 이상의 책을 준비</text>
<path d="M910 958 C916 958 914 958 922 958 H990"/><text x="924" y="956">&lt;손자&gt; 를 모든 읽음</text>
<path d="M910 958 C916 958 914 968 922 968 H1000"/><text x="924" y="966">&lt;손자&gt; 독서 후 - 방법 공동탑</text>
<path d="M855 975 C861 975 859 995 867 995 H920"/><text x="869" y="993">나용하로 범죄 공포</text>
<path d="M920 995 C926 995 924 990 932 990 H970"/><text x="934" y="988">근대적인 범죄학</text>
<path d="M970 990 C975 990 974 980 980 980 H1020"/><text x="982" y="978">"조우운"</text>
<path d="M970 990 C975 990 974 990 980 990 H1030"/><text x="982" y="988">"에덴의 사과 효과"</text>
<path d="M970 990 C975 990 974 1000 980 1000 H1030"/><text x="982" y="998">"과잉 책임주의"</text>
<path d="M920 995 C926 995 924 1010 932 1010 H970"/><text x="934" y="1008">범죄주의</text>
<path d="M870 1040 C876 1040 874 1022 882 1022 H1050"/><text x="884" y="1020">첨대 주변에 2018 이외의 가습이를 두고 떠루면 번호 잘</text>
<path d="M870 1040 C876 1040 874 1032 882 1032 H1000"/><text x="884" y="1030">준비된 판매는 의식한 수면</text>
<path d="M870 1040 C876 1040 874 1043 882 1043 H1100"/><text x="884" y="1041">예외론 - 조금이라도 옆인면 집중 못 합, 언제 좋의 포질은 말씀을 가지고 커졌음 짐</text>
<path d="M875 1060 C881 1060 879 1055 887 1055 H1060"/><text x="889" y="1053">평소에 체3자의 시점으로 자신을 바라보는 방법은 스포츠 활동에도 잘 이익하는 준재처럼 많다.</text>
<path d="M875 1060 C881 1060 879 1066 887 1066 H1060"/><text x="889" y="1064">자신의 모습을 활용하면 감각을 본만 아님 원에 뉴스를 프로파도 들 수 있다</text>
<path d="M860 1090 C866 1090 864 1076 872 1076 H930"/><text x="874" y="1074">아즈하랑 출신의 저널나</text>
<path d="M860 1090 C866 1090 864 1086 872 1086 H1000"/><text x="874" y="1084">500개의 숫자를 한 번 읽고 기억 - 기네스 세계기록 보유자</text>
<path d="M860 1090 C866 1090 864 1096 872 1096 H980"/><text x="874" y="1094">숫자를 문자로 바꿔 기억하는 '세야다' 기술 습득</text>
<path d="M860 1090 C866 1090 864 1106 872 1106 H1040"/><text x="874" y="1104">'기억하려고 하는 의지가 중요, 의지가 있다면 기법을 사용하지 않고, 집중하도 놀라한다.</text>
</g>
</svg>
</body></html>
